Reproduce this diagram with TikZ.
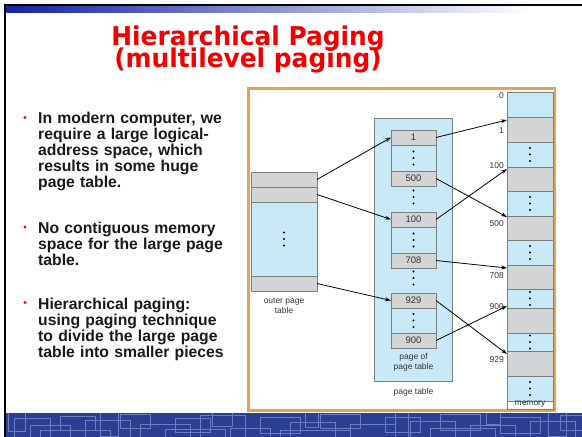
\documentclass[tikz,border=0pt]{standalone}
\usepackage{fontspec}
\setmainfont{Liberation Sans}
\newfontfamily\titlefont[FakeStretch=0.96]{DejaVu Sans}
\usetikzlibrary{arrows.meta}
\definecolor{cellblue}{RGB}{200,233,248}
\definecolor{cellgray}{RGB}{211,212,214}
\definecolor{celledge}{RGB}{125,125,125}
\definecolor{frameorange}{RGB}{233,162,84}
\definecolor{titlered}{RGB}{240,0,0}
\definecolor{bandblue}{RGB}{43,63,145}
\definecolor{bandline}{RGB}{105,125,195}
\definecolor{barblue}{RGB}{20,35,165}
\definecolor{labelgray}{RGB}{50,50,50}
\definecolor{bullettext}{RGB}{25,25,25}
\tikzset{
  gcell/.style={draw=celledge, fill=cellgray, line width=0.6bp, inner sep=0pt, outer sep=0pt, anchor=north west, font=\fontsize{9.5}{10}\selectfont, text=labelgray},
  bcell/.style={draw=celledge, fill=cellblue, line width=0.6bp, inner sep=0pt, outer sep=0pt, anchor=north west},
  arr/.style={-{Stealth[length=6bp,width=4bp]}, line width=0.8bp, black},
  lbl/.style={font=\fontsize{8.5}{10.5}\selectfont, text=labelgray, inner sep=0pt, align=center},
  bul/.style={font=\fontsize{15.8}{16}\selectfont\bfseries, text=bullettext, inner sep=0pt, anchor=base west, text width=220bp, align=left},
  ttl/.style={font=\titlefont\fontsize{26}{26}\selectfont\bfseries, text=titlered, inner sep=0pt, anchor=base},
  tridots/.pic={\fill[black] (0,-6.5) circle (1.2bp); \fill[black] (0,0) circle (1.2bp); \fill[black] (0,6.5) circle (1.2bp);}
}
\begin{document}
\begin{tikzpicture}[x=1bp,y=-1bp]
\useasboundingbox (0,0) rectangle (582,437);
\fill[white] (0,0) rectangle (582,437);
% slide decoration
\fill[black] (4,4) rectangle (582,6.5);
\fill[black] (4,4) rectangle (6.3,437);
\shade[left color=barblue, right color=white] (6.3,6.5) rectangle (530,12.5);
\fill[bandblue] (6.3,413) rectangle (582,437);
\begin{scope}
\clip (6.3,413) rectangle (582,437);
\foreach \a/\b/\c/\d in {14/418/50/445, 30/425/70/440, 60/416/95/430, 85/420/130/445, 120/414/150/428, 140/424/190/445, 175/418/210/432, 200/415/245/440, 230/428/270/445, 260/417/300/433, 290/422/335/445, 320/414/360/428, 350/424/395/445, 385/417/420/432, 410/421/455/445, 440/414/480/430, 470/425/515/445, 500/417/540/433, 530/421/575/445, 560/415/590/430, 40/430/110/450, 165/429/225/450, 280/430/350/450, 430/428/495/450, 8/410/25/431, 100/410/118/436, 212/410/232/426, 305/410/318/427, 395/409/408/437, 486/409/500/424, 548/409/566/436}
  \draw[bandline, line width=0.8bp] (\a,\b) rectangle (\c,\d);
\end{scope}
% title
\node[ttl] (t1) at (248,45.3) {Hierarchical Paging};
\node[ttl] (t2) at (248,67.3) {(multilevel paging)};
% bullets
\fill[red] (25,117.5) circle (1.6bp);
\fill[red] (25,227) circle (1.6bp);
\fill[red] (25,302.5) circle (1.6bp);
\node[bul] (b1) at (38,124) {In modern computer, we\\require a large logical-\\address space, which\\results in some huge\\page table.};
\node[bul] (b2) at (38,233.5) {No contiguous memory\\space for the large page\\table.};
\node[bul] (b3) at (38,309.5) {Hierarchical paging:\\using paging technique\\to divide the large page\\table into smaller pieces};
% frame
\draw[frameorange, line width=2.2bp] (248.5,88.5) rectangle (555,410.5);
% outer page table
\node[gcell, minimum width=66bp, minimum height=15bp] (o1) at (251,172) {};
\node[gcell, minimum width=66bp, minimum height=15bp] (o2) at (251,187) {};
\node[bcell, minimum width=66bp, minimum height=74bp] (o3) at (251,202) {};
\node[gcell, minimum width=66bp, minimum height=15bp] (o4) at (251,276) {};
\pic at (o3.center) {tridots};
\node[lbl, anchor=north] (olbl) at (284,297.5) {outer page\\table};
% page table
\node[bcell, minimum width=78bp, minimum height=263bp] (pt) at (374,118) {};
\node[gcell, minimum width=45bp, minimum height=15bp] (p1) at (391,130) {1};
\node[bcell, minimum width=45bp, minimum height=26bp] (p1b) at (391,145) {};
\node[gcell, minimum width=45bp, minimum height=15bp] (p500) at (391,171) {500};
\node[gcell, minimum width=45bp, minimum height=15bp] (p100) at (391,212) {100};
\node[bcell, minimum width=45bp, minimum height=26bp] (p100b) at (391,227) {};
\node[gcell, minimum width=45bp, minimum height=15bp] (p708) at (391,253) {708};
\node[gcell, minimum width=45bp, minimum height=15bp] (p929) at (391,293) {929};
\node[bcell, minimum width=45bp, minimum height=25bp] (p929b) at (391,308) {};
\node[gcell, minimum width=45bp, minimum height=15bp] (p900) at (391,333) {900};
\pic at (p1b.center) {tridots};
\pic at (p100b.center) {tridots};
\pic at (p929b.center) {tridots};
\pic at (413.5,197) {tridots};
\pic at (413.5,278) {tridots};
\node[lbl, anchor=north] (plbl) at (413.5,353) {page of\\page table};
\node[lbl] (ptlbl) at (413.5,392.5) {page table};
% memory
\node[draw=celledge, fill=white, line width=0.6bp, inner sep=0pt, anchor=north west, minimum width=46bp, minimum height=317bp] (mem) at (507,92) {};
\node[bcell, minimum width=46bp, minimum height=25bp] (m0) at (507,92) {};
\node[gcell, minimum width=46bp, minimum height=25bp] (m1) at (507,117) {};
\node[bcell, minimum width=46bp, minimum height=25bp] (m2) at (507,142) {};
\node[gcell, minimum width=46bp, minimum height=24bp] (m100) at (507,167) {};
\node[bcell, minimum width=46bp, minimum height=25bp] (m4) at (507,191) {};
\node[gcell, minimum width=46bp, minimum height=24bp] (m500) at (507,216) {};
\node[bcell, minimum width=46bp, minimum height=25bp] (m6) at (507,240) {};
\node[gcell, minimum width=46bp, minimum height=24bp] (m708) at (507,265) {};
\node[bcell, minimum width=46bp, minimum height=19bp] (m8) at (507,289) {};
\node[gcell, minimum width=46bp, minimum height=25bp] (m900) at (507,308) {};
\node[bcell, minimum width=46bp, minimum height=18bp] (m10) at (507,333) {};
\node[gcell, minimum width=46bp, minimum height=25bp] (m929) at (507,351) {};
\node[bcell, minimum width=46bp, minimum height=25bp] (m12) at (507,376) {};
\foreach \c in {m2,m4,m6,m8,m10,m12} \pic at (\c.center) {tridots};
\node[lbl] (memlbl) at (530,404.5) {memory};
\node[lbl, anchor=east] (a0) at (504,96) {0};
\node[lbl, anchor=east] (a1) at (504,131) {1};
\node[lbl, anchor=east] (a100) at (504,166) {100};
\node[lbl, anchor=east] (a500) at (504,224) {500};
\node[lbl, anchor=east] (a708) at (504,276) {708};
\node[lbl, anchor=east] (a900) at (504,306.5) {900};
\node[lbl, anchor=east] (a929) at (504,360) {929};
% arrows
\draw[arr] (o1.east) -- (p1.west);
\draw[arr] (o2.east) -- (p100.west);
\draw[arr] (o4.east) -- (p929.west);
\draw[arr] (p1.east) -- ([yshift=-3bp]m1.north west);
\draw[arr] (p500.east) -- ([yshift=-1bp]m500.north west);
\draw[arr] (p100.east) -- ([yshift=-2bp]m100.north west);
\draw[arr] (p708.east) -- ([yshift=-3bp]m708.north west);
\draw[arr] (p929.east) -- ([yshift=-3bp]m929.north west);
\draw[arr] (p900.east) -- ([yshift=2bp]m900.north west);
\end{tikzpicture}
\end{document}
